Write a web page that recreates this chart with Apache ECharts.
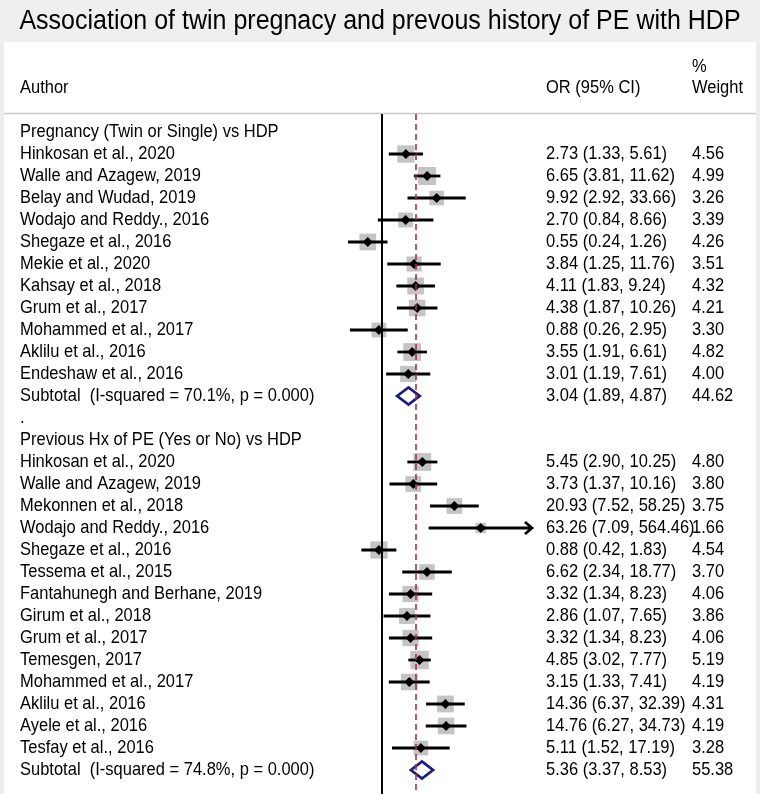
<!DOCTYPE html>
<html><head><meta charset="utf-8">
<script src="https://cdn.jsdelivr.net/npm/echarts@6/dist/echarts.min.js"></script>
<style>html,body{margin:0;padding:0;background:#ececec}#c{width:760px;height:794px}</style>
</head><body><div id="c"></div>
<script>
// ---------- data ----------
const chartTitle = 'Association of twin pregnacy and prevous history of PE with HDP';
const headerAuthor = 'Author';
const headerOR = 'OR (95% CI)';
const headerWeight1 = '%';
const headerWeight2 = 'Weight';

const group1Title = 'Pregnancy (Twin or Single) vs HDP';
const group1Authors = ['Hinkosan et al., 2020','Walle and Azagew, 2019','Belay and Wudad, 2019','Wodajo and Reddy., 2016','Shegaze et al., 2016','Mekie et al., 2020','Kahsay et al., 2018','Grum et al., 2017','Mohammed et al., 2017','Aklilu et al., 2016','Endeshaw et al., 2016'];
const group1OR     = [2.73, 6.65, 9.92, 2.70, 0.55, 3.84, 4.11, 4.38, 0.88, 3.55, 3.01];
const group1Lower  = [1.33, 3.81, 2.92, 0.84, 0.24, 1.25, 1.83, 1.87, 0.26, 1.91, 1.19];
const group1Upper  = [5.61, 11.62, 33.66, 8.66, 1.26, 11.76, 9.24, 10.26, 2.95, 6.61, 7.61];
const group1Weight = [4.56, 4.99, 3.26, 3.39, 4.26, 3.51, 4.32, 4.21, 3.30, 4.82, 4.00];
const group1SubLabel = 'Subtotal  (I-squared = 70.1%, p = 0.000)';
const group1Sub = [3.04, 1.89, 4.87, 44.62]; // OR, lower, upper, weight

const group2Title = 'Previous Hx of PE (Yes or No) vs HDP';
const group2Authors = ['Hinkosan et al., 2020','Walle and Azagew, 2019','Mekonnen et al., 2018','Wodajo and Reddy., 2016','Shegaze et al., 2016','Tessema et al., 2015','Fantahunegh and Berhane, 2019','Girum et al., 2018','Grum et al., 2017','Temesgen, 2017','Mohammed et al., 2017','Aklilu et al., 2016','Ayele et al., 2016','Tesfay et al., 2016'];
const group2OR     = [5.45, 3.73, 20.93, 63.26, 0.88, 6.62, 3.32, 2.86, 3.32, 4.85, 3.15, 14.36, 14.76, 5.11];
const group2Lower  = [2.90, 1.37, 7.52, 7.09, 0.42, 2.34, 1.34, 1.07, 1.34, 3.02, 1.33, 6.37, 6.27, 1.52];
const group2Upper  = [10.25, 10.16, 58.25, 564.46, 1.83, 18.77, 8.23, 7.65, 8.23, 7.77, 7.41, 32.39, 34.73, 17.19];
const group2Weight = [4.80, 3.80, 3.75, 1.66, 4.54, 3.70, 4.06, 3.86, 4.06, 5.19, 4.19, 4.31, 4.19, 3.28];
const group2SubLabel = 'Subtotal  (I-squared = 74.8%, p = 0.000)';
const group2Sub = [5.36, 3.37, 8.53, 55.38];

const overallOR = 4.1;   // dashed reference line
const nullOR = 1;        // solid no-effect line

// ---------- layout / style ----------
const AXIS_MAX = 545, AXIS_MIN = 1 / 545;
const FONT = '"Liberation Sans", Arial, Helvetica, sans-serif';
const FS = 16.5;
const TEXT_SY = 1.08;
const X_AUTHOR = 20, X_OR = 546, X_W = 692;
const ROW_TOP_PX = 132, ROW_H = 22, GRID_TOP = 114, GRID_H = 680;
const BOX_K = 8.1;

// ---------- build rows ----------
const studies = [];   // [or, row, lo, hi, w]
const subtotals = []; // [or, row, lo, hi]
const texts = [];     // {row, x, text}
let r = 0;
function addGroup(title, authors, ors, los, his, ws, subLabel, sub) {
  texts.push({row: r, x: X_AUTHOR, text: title}); r++;
  for (let i = 0; i < authors.length; i++) {
    studies.push([ors[i], r, los[i], his[i], ws[i]]);
    texts.push({row: r, x: X_AUTHOR, text: authors[i]});
    texts.push({row: r, x: X_OR, text: ors[i].toFixed(2) + ' (' + los[i].toFixed(2) + ', ' + his[i].toFixed(2) + ')'});
    texts.push({row: r, x: X_W, text: ws[i].toFixed(2)});
    r++;
  }
  subtotals.push([sub[0], r, sub[1], sub[2]]);
  texts.push({row: r, x: X_AUTHOR, text: subLabel});
  texts.push({row: r, x: X_OR, text: sub[0].toFixed(2) + ' (' + sub[1].toFixed(2) + ', ' + sub[2].toFixed(2) + ')'});
  texts.push({row: r, x: X_W, text: sub[3].toFixed(2)});
  r++;
}
addGroup(group1Title, group1Authors, group1OR, group1Lower, group1Upper, group1Weight, group1SubLabel, group1Sub);
texts.push({row: r, x: X_AUTHOR, text: '.'}); r++;
addGroup(group2Title, group2Authors, group2OR, group2Lower, group2Upper, group2Weight, group2SubLabel, group2Sub);
texts.push({row: -2, x: X_AUTHOR, text: headerAuthor});
texts.push({row: -2, x: X_OR, text: headerOR});
texts.push({row: -2.95, x: X_W, text: headerWeight1});
texts.push({row: -2, x: X_W, text: headerWeight2});

const yMin = (GRID_TOP - ROW_TOP_PX) / ROW_H;
const yMax = (GRID_TOP + GRID_H - ROW_TOP_PX) / ROW_H;

const chart = echarts.init(document.getElementById('c'), null, {renderer: 'canvas'});
const option = {
  backgroundColor: '#ececec',
  animation: false,
  graphic: [
    {type: 'rect', z: -10, shape: {x: 4, y: 42, width: 752, height: 760}, style: {fill: '#ffffff'}},
    {type: 'rect', z: -10, shape: {x: 0, y: 0, width: 760, height: 42}, style: {fill: '#efefef'}},
    {type: 'line', z: -5, shape: {x1: 4, y1: 113.5, x2: 756, y2: 113.5}, style: {stroke: '#c8c8c8', lineWidth: 1.5}},
    {type: 'text', x: 380, y: 22, scaleY: TEXT_SY, style: {text: chartTitle, fill: '#000', font: '25px ' + FONT, align: 'center', verticalAlign: 'middle'}}
  ],
  grid: {left: 232, width: 300, top: GRID_TOP, height: GRID_H, show: false},
  xAxis: {type: 'log', logBase: 10, min: AXIS_MIN, max: AXIS_MAX, axisLine: {show: false}, axisTick: {show: false}, axisLabel: {show: false}, splitLine: {show: false}},
  yAxis: {type: 'value', inverse: true, min: yMin, max: yMax, axisLine: {show: false}, axisTick: {show: false}, axisLabel: {show: false}, splitLine: {show: false}},
  series: [
    { // weight boxes
      type: 'custom', z: 1, data: studies, clip: false,
      renderItem: function (params, api) {
        const c = api.coord([api.value(0), api.value(1)]);
        const side = BOX_K * Math.sqrt(api.value(4));
        return {type: 'rect', shape: {x: c[0] - side / 2, y: c[1] - side / 2, width: side, height: side}, style: {fill: '#c4c4c4'}};
      }
    },
    { // reference lines
      type: 'custom', z: 2, data: [], renderItem: function () { return null; },
      markLine: {
        silent: true, symbol: 'none', label: {show: false},
        data: [
          {xAxis: nullOR, lineStyle: {color: '#000000', width: 2, type: 'solid'}},
          {xAxis: overallOR, lineStyle: {color: '#a8323e', width: 1.6, type: [6, 4]}}
        ]
      }
    },
    { // CI lines, points, arrows
      type: 'custom', z: 3, data: studies, clip: false,
      renderItem: function (params, api) {
        const or = api.value(0), row = api.value(1), lo = api.value(2), hi = api.value(3);
        const c = api.coord([or, row]);
        const cl = api.coord([lo, row]);
        const ch = api.coord([Math.min(hi, AXIS_MAX), row]);
        const ch0 = hi > AXIS_MAX ? ch[0] - 1 : ch[0];
        const children = [
          {type: 'line', shape: {x1: cl[0], y1: c[1], x2: ch0, y2: c[1]}, style: {stroke: '#000', lineWidth: 2.8}},
          {type: 'polygon', shape: {points: [[c[0] - 5, c[1]], [c[0], c[1] - 5], [c[0] + 5, c[1]], [c[0], c[1] + 5]]}, style: {fill: '#000'}}
        ];
        if (hi > AXIS_MAX) {
          children.push({type: 'polyline', shape: {points: [[ch[0] - 7, c[1] - 6], [ch[0], c[1]], [ch[0] - 7, c[1] + 6]]}, style: {stroke: '#000', lineWidth: 2.8, fill: null}});
        }
        return {type: 'group', children: children};
      }
    },
    { // subtotal diamonds
      type: 'custom', z: 3, data: subtotals, clip: false,
      renderItem: function (params, api) {
        const row = api.value(1);
        const c = api.coord([api.value(0), row]);
        const l = api.coord([api.value(2), row]);
        const h = api.coord([api.value(3), row]);
        const d = 8.5;
        return {type: 'polygon', shape: {points: [[l[0], c[1]], [c[0], c[1] - d], [h[0], c[1]], [c[0], c[1] + d]]}, style: {fill: '#fff', stroke: '#1c1c80', lineWidth: 2.8}};
      }
    },
    { // text columns
      type: 'custom', z: 4, data: texts.map(function (t) { return [1, t.row]; }), clip: false,
      renderItem: function (params, api) {
        const t = texts[params.dataIndex];
        const p = api.coord([1, api.value(1)]);
        return {type: 'text', x: t.x, y: p[1], scaleY: TEXT_SY, style: {text: t.text, fill: '#000', font: FS + 'px ' + FONT, align: 'left', verticalAlign: 'middle'}};
      }
    }
  ]
};
chart.setOption(option);
</script>
</body></html>
